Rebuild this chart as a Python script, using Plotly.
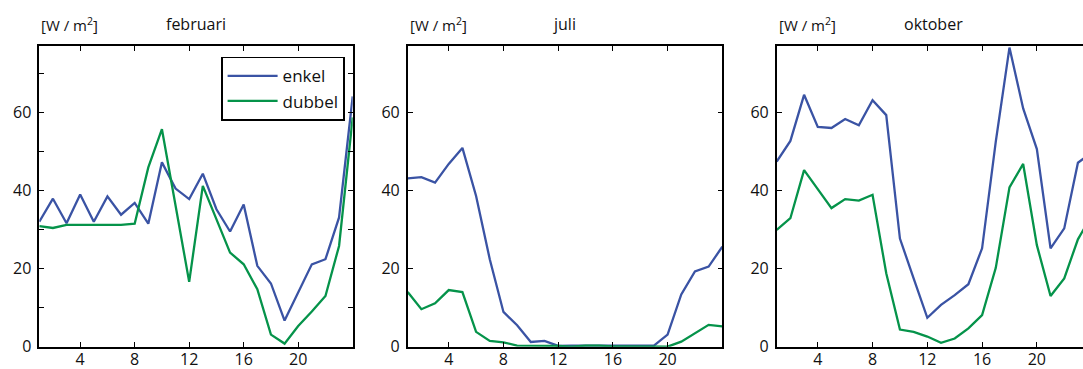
import plotly.graph_objects as go

hours = list(range(1, 25))

feb_enkel = [32.0, 37.9, 31.6, 39.0, 32.0, 38.5, 33.8, 36.8, 31.5, 47.2, 40.5, 37.8,
             44.3, 35.2, 29.5, 36.4, 20.7, 16.2, 6.7, 13.8, 21.1, 22.4, 33.1, 64.1]
feb_dubbel = [30.9, 30.4, 31.2, 31.2, 31.2, 31.2, 31.2, 31.5, 45.9, 55.7, 36.0, 16.6,
              41.2, 32.5, 24.1, 21.1, 14.7, 3.1, 0.8, 5.3, 9.0, 13.0, 25.8, 58.7]

jul_enkel = [43.1, 43.4, 42.0, 46.8, 50.9, 38.6, 22.4, 8.9, 5.5, 1.2, 1.5, 0.2,
             0.3, 0.3, 0.3, 0.3, 0.3, 0.3, 0.3, 3.1, 13.4, 19.3, 20.5, 25.6]
jul_dubbel = [14.0, 9.6, 11.1, 14.5, 14.0, 3.8, 1.5, 1.1, 0.3, 0.3, 0.3, 0.2,
              0.0, 0.3, 0.3, 0.1, 0.1, 0.1, 0.1, 0.0, 1.3, 3.4, 5.6, 5.2]

okt_enkel = [47.4, 52.7, 64.5, 56.3, 56.0, 58.3, 56.7, 63.1, 59.3, 27.7, 17.5, 7.4,
             10.7, 13.2, 16.0, 25.2, 52.5, 76.6, 61.0, 50.6, 25.2, 30.3, 47.1, 49.7]
okt_dubbel = [29.9, 32.9, 45.2, 40.4, 35.5, 37.8, 37.4, 38.9, 18.8, 4.4, 3.8, 2.6,
              1.0, 2.1, 4.7, 8.1, 20.2, 40.8, 46.8, 26.0, 13.0, 17.5, 27.5, 33.6]

months = ["februari", "juli", "oktober"]
series_names = ["enkel", "dubbel"]
x_ticks = [4, 8, 12, 16, 20]
y_ticks = [0, 20, 40, 60]
unit_label = "[W / m<sup>2</sup>]"

BLUE = "#3a53a4"
GREEN = "#05934a"
FONT = "Open Sans"
TXT = "#111"

W, H = 1083, 369
panels_px = [(39.3, 352.7), (407.7, 722.3), (776.7, 1083.0)]
panel_w = 314.0
top_px, bot_px = 46.0, 346.7
x_ranges = [[1, 24], [1, 24], [1, 23.37]]

fig = go.Figure()
data = [(feb_enkel, feb_dubbel), (jul_enkel, jul_dubbel), (okt_enkel, okt_dubbel)]

ydom = [(H - bot_px) / H, (H - top_px) / H]
for i, ((e, d), (l, r)) in enumerate(zip(data, panels_px)):
    xa = "x" if i == 0 else f"x{i+1}"
    ya = "y" if i == 0 else f"y{i+1}"
    fig.add_trace(go.Scatter(x=hours, y=e, mode="lines", name=series_names[0],
                             line=dict(color=BLUE, width=2.3), xaxis=xa, yaxis=ya,
                             showlegend=(i == 0)))
    fig.add_trace(go.Scatter(x=hours, y=d, mode="lines", name=series_names[1],
                             line=dict(color=GREEN, width=2.3), xaxis=xa, yaxis=ya,
                             showlegend=(i == 0)))
    xkey = "xaxis" if i == 0 else f"xaxis{i+1}"
    ykey = "yaxis" if i == 0 else f"yaxis{i+1}"
    xaxis = dict(domain=[l / W, r / W], range=x_ranges[i], anchor=ya,
                 tickvals=x_ticks, ticks="inside", ticklen=5, tickwidth=1,
                 tickcolor="black", showline=True, linecolor="black", linewidth=1.6,
                 mirror="ticks", showgrid=False, zeroline=False, automargin=False,
                 ticklabelstandoff=-3,
                 tickfont=dict(family=FONT, size=16, color=TXT))
    yaxis = dict(domain=ydom, range=[0, 77], anchor=xa,
                 tickvals=y_ticks, ticks="inside", ticklen=5, tickwidth=1,
                 tickcolor="black", showline=True, linecolor="black", linewidth=1.6,
                 mirror=("ticks" if i < 2 else False), showgrid=False, zeroline=False,
                 automargin=False, ticklabelstandoff=3,
                 tickfont=dict(family=FONT, size=16, color=TXT))
    if i == 0:
        yaxis["minor"] = dict(tickvals=[10, 30, 50, 70], ticks="inside", ticklen=5,
                              tickwidth=1, tickcolor="black")
    fig.layout[xkey] = xaxis
    fig.layout[ykey] = yaxis
    fig.add_annotation(x=l / W, y=(H - 24) / H, xref="paper", yref="paper",
                       text=unit_label, showarrow=False, xanchor="left", yanchor="middle",
                       font=dict(family=FONT, size=15, color=TXT))
    fig.add_annotation(x=(l + panel_w / 2) / W, y=(H - 24) / H, xref="paper", yref="paper",
                       text=months[i], showarrow=False, xanchor="center", yanchor="middle",
                       font=dict(family=FONT, size=16, color=TXT))

fig.update_layout(
    width=W, height=H, margin=dict(l=0, r=0, t=0, b=0),
    paper_bgcolor="white", plot_bgcolor="white",
    legend=dict(x=345 / W, y=(H - 56.7) / H, xanchor="right", yanchor="top",
                bordercolor="black", borderwidth=1.6, bgcolor="white",
                font=dict(family=FONT, size=17, color=TXT),
                tracegroupgap=0, itemwidth=50),
)

fig.write_html("out.html")
